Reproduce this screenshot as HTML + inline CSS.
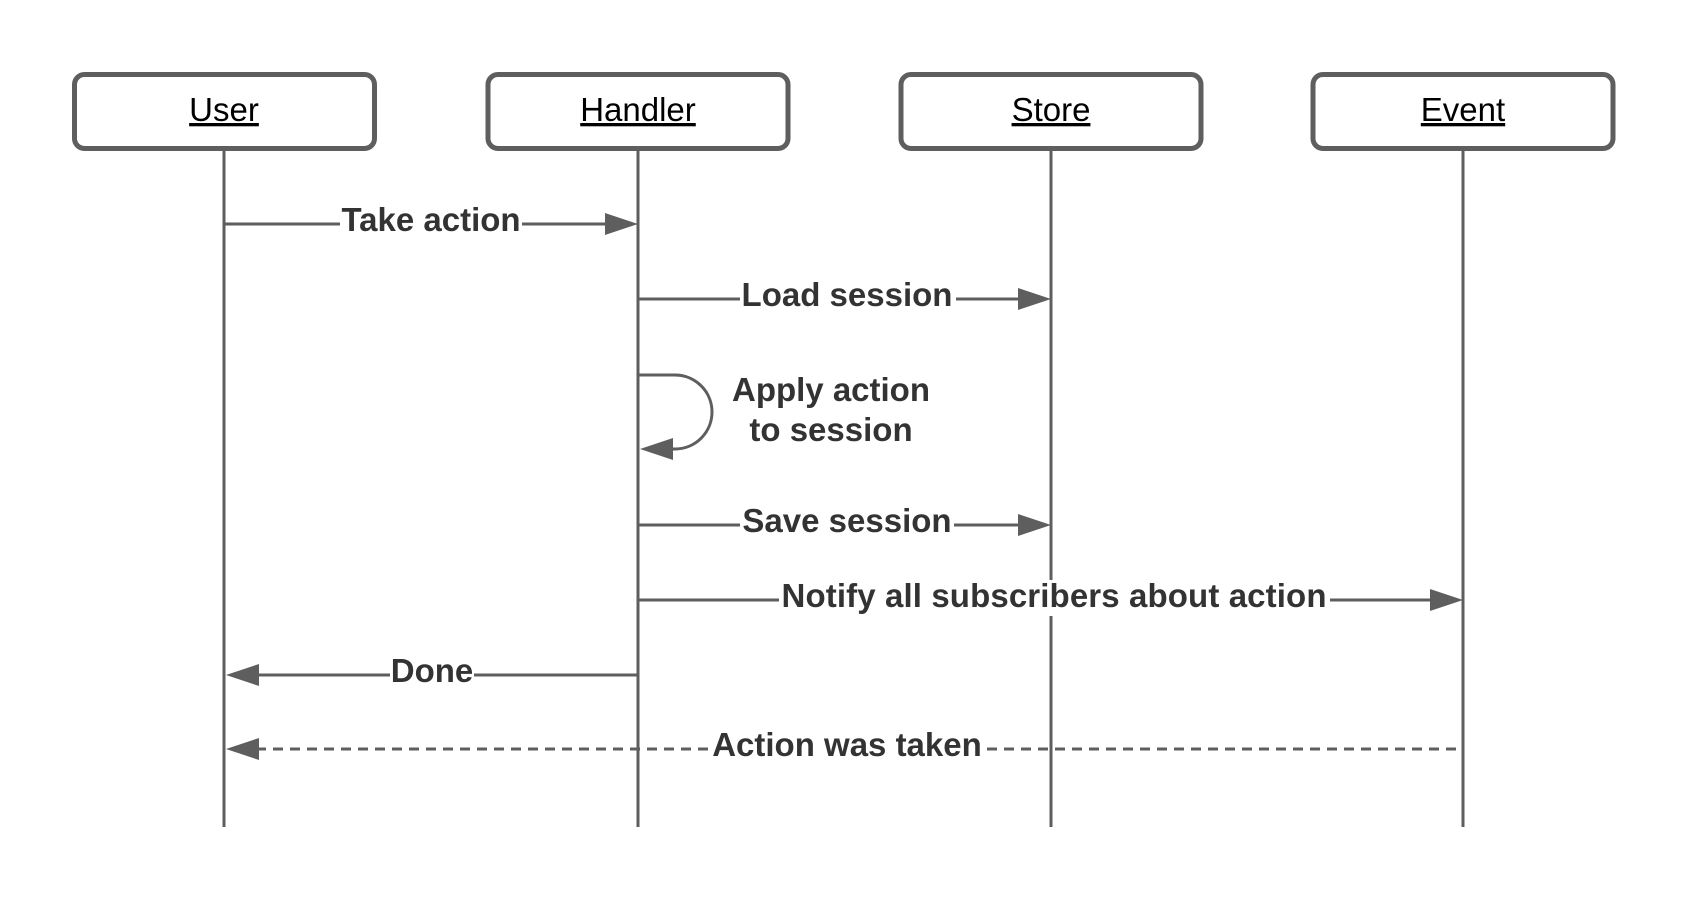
<!DOCTYPE html>
<html><head><meta charset="utf-8"><style>
html,body{margin:0;padding:0;background:#fff;}
svg{display:block}
.b{font-family:"Liberation Sans",sans-serif;font-weight:bold;font-size:33px;fill:#333}
.h{font-family:"Liberation Sans",sans-serif;font-size:33px;fill:#000;text-decoration:underline}
</style></head><body>
<svg width="1688" height="900" viewBox="0 0 1688 900" xmlns="http://www.w3.org/2000/svg">
<g fill="#fff" stroke="#5e5e5e" stroke-width="5">
<rect x="74.5" y="74.5" width="300" height="74" rx="10"/>
<rect x="488" y="74.5" width="300" height="74" rx="10"/>
<rect x="901" y="74.5" width="300" height="74" rx="10"/>
<rect x="1313" y="74.5" width="300" height="74" rx="10"/>
</g>
<g class="h" text-anchor="middle">
<text x="224" y="121">User</text>
<text x="638" y="121">Handler</text>
<text x="1051" y="121">Store</text>
<text x="1463" y="121">Event</text>
</g>
<g stroke="#5e5e5e" stroke-width="3" fill="none">
<line x1="224" y1="151" x2="224" y2="827"/>
<line x1="638" y1="151" x2="638" y2="827"/>
<line x1="1051" y1="151" x2="1051" y2="827"/>
<line x1="1463" y1="151" x2="1463" y2="827"/>
<line x1="224" y1="224" x2="608" y2="224"/>
<line x1="638" y1="299" x2="1020" y2="299"/>
<path d="M638 375 H675 A37 37 0 0 1 712 412 A37 37 0 0 1 675 449 H668"/>
<line x1="638" y1="525" x2="1020" y2="525"/>
<line x1="638" y1="600" x2="1432" y2="600"/>
<line x1="256" y1="675" x2="638" y2="675"/>
<line x1="256" y1="749" x2="1463" y2="749" stroke-dasharray="10,7"/>
</g>
<g fill="#5e5e5e">
<polygon points="638,224 605,213 605,235"/>
<polygon points="1051,299 1018,288 1018,310"/>
<polygon points="640,449 673,438 673,460"/>
<polygon points="1051,525 1018,514 1018,536"/>
<polygon points="1463,600 1430,589 1430,611"/>
<polygon points="226,675 259,664 259,686"/>
<polygon points="226,749 259,738 259,760"/>
</g>
<g fill="#fff">
<rect x="340" y="204" width="182" height="36"/>
<rect x="740" y="279" width="216" height="36"/>
<rect x="740" y="505" width="214" height="36"/>
<rect x="779" y="580" width="551" height="36"/>
<rect x="390" y="655" width="84" height="36"/>
<rect x="709" y="729" width="276" height="36"/>
</g>
<g class="b" text-anchor="middle">
<text x="431" y="231">Take action</text>
<text x="847" y="306">Load session</text>
<text x="831" y="401">Apply action</text>
<text x="831" y="441">to session</text>
<text x="847" y="532">Save session</text>
<text x="1054" y="607" textLength="545">Notify all subscribers about action</text>
<text x="432" y="682">Done</text>
<text x="847" y="756">Action was taken</text>
</g>
</svg>
</body></html>
